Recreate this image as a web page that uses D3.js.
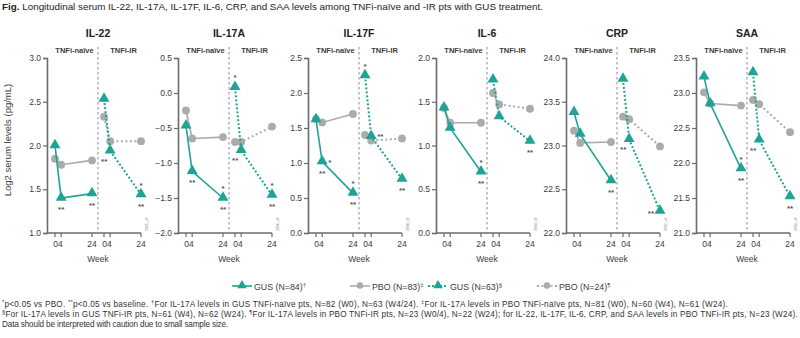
<!DOCTYPE html>
<html>
<head>
<meta charset="utf-8">
<script src="https://cdn.jsdelivr.net/npm/d3@7"></script>
<style>
  body { margin: 0; background: #fff; }
  svg { display: block; font-family: "Liberation Sans", Arial, sans-serif; }
</style>
</head>
<body>
<div id="chart"></div>
<script>
// Data
const analytes = ["IL-22", "IL-17A", "IL-17F", "IL-6", "CRP", "SAA"];
const weeks = [0, 4, 24];
const yDomains = [[1.0, 3.0], [-2.0, 0.5], [0.0, 2.5], [0.0, 2.0], [22.0, 24.0], [21.0, 23.5]];
const docCodes = ["2005_v8", "2006_v8", "2008_v8", "2004_v8", "2002_v8", "2003_v8"];

const gusNaive = [[2.00, 1.40, 1.45], [-0.47, -1.12, -1.50], [1.62, 1.02, 0.57], [1.43, 1.20, 0.70], [23.38, 23.13, 22.60], [23.23, 22.85, 21.92]];
const pboNaive = [[1.85, 1.78, 1.83], [-0.25, -0.65, -0.63], [1.63, 1.58, 1.70], [1.43, 1.26, 1.26], [23.17, 23.03, 23.04], [23.01, 22.85, 22.82]];
const gusIR = [[2.53, 1.94, 1.44], [0.08, -0.82, -1.46], [2.25, 1.38, 0.77], [1.75, 1.33, 1.05], [23.76, 23.07, 22.25], [23.29, 22.33, 21.52]];
const pboIR = [[2.33, 2.05, 2.05], [-0.70, -0.70, -0.48], [1.40, 1.32, 1.35], [1.60, 1.47, 1.42], [23.33, 23.30, 22.99], [22.90, 22.84, 22.44]];

// significance marks: [panel, series, week index, text, placement]
const marks = [
  [0, "gusNaive", 1, "**", "below"], [0, "gusNaive", 2, "**", "below"],
  [0, "gusIR", 1, "**", "belowLeft"], [0, "gusIR", 2, "*", "above"], [0, "gusIR", 2, "**", "below"],
  [1, "gusNaive", 1, "**", "below"], [1, "gusNaive", 2, "*", "above"], [1, "gusNaive", 2, "**", "below"],
  [1, "gusIR", 0, "*", "above"], [1, "gusIR", 1, "**", "belowLeft"], [1, "gusIR", 2, "*", "above"], [1, "gusIR", 2, "**", "below"],
  [2, "gusNaive", 1, "*", "right"], [2, "gusNaive", 1, "**", "below"], [2, "gusNaive", 2, "*", "above"], [2, "gusNaive", 2, "**", "below"],
  [2, "gusIR", 0, "*", "above"], [2, "gusIR", 1, "**", "right"], [2, "gusIR", 2, "**", "below"],
  [3, "gusNaive", 2, "*", "above"], [3, "gusNaive", 2, "**", "below"], [3, "gusIR", 2, "**", "below"],
  [4, "gusNaive", 2, "**", "below"], [4, "gusIR", 1, "**", "belowLeft"], [4, "gusIR", 2, "**", "left"],
  [5, "gusNaive", 2, "*", "above"], [5, "gusNaive", 2, "**", "below"], [5, "gusIR", 1, "**", "belowLeft"], [5, "gusIR", 2, "**", "below"]
];

const legendLabels = ["GUS (N=84)", "PBO (N=83)", "GUS (N=63)", "PBO (N=24)"];
const legendSup = ["†", "‡", "§", "¶"];

const teal = "#1fa396";
const grey = "#ababab";
const axisCol = "#6b6b6b";
const textCol = "#3c3c3c";

const width = 800, height = 338;
const svg = d3.select("#chart").append("svg").attr("width", width).attr("height", height);

// stretch a text line to the width it has in the figure
function fitWidth(sel, target) {
  const node = sel.node();
  const w = node.getComputedTextLength();
  const n = node.textContent.length;
  if (n > 1) sel.attr("letter-spacing", ((target - w) / n).toFixed(3));
}

// Title
const title = svg.append("text").attr("x", 2).attr("y", 10).attr("font-size", 9.8).attr("fill", "#222");
title.append("tspan").attr("font-weight", "bold").text("Fig.");
title.append("tspan").text(" Longitudinal serum IL-22, IL-17A, IL-17F, IL-6, CRP, and SAA levels among TNFi-naïve and -IR pts with GUS treatment.");
fitWidth(title, 541);

// Y label
svg.append("text")
  .attr("transform", "translate(11,140) rotate(-90)")
  .attr("text-anchor", "middle").attr("font-size", 9.5).attr("fill", textCol)
  .text("Log2 serum levels (pg/mL)");

const panelX = [47, 178, 308, 436, 566, 696];
const plotTop = 58, plotBottom = 233;
const seriesData = { gusNaive, pboNaive, gusIR, pboIR };

analytes.forEach((name, p) => {
  const x0 = panelX[p];
  const g = svg.append("g");
  const y = d3.scaleLinear().domain(yDomains[p]).range([plotBottom, plotTop]);
  const xN = d3.scaleLinear().domain([0, 24]).range([x0 + 8, x0 + 45]);
  const xI = d3.scaleLinear().domain([0, 24]).range([x0 + 57, x0 + 94]);
  const divX = x0 + 51;

  // y axis
  const yAxis = d3.axisLeft(y).ticks(5).tickSize(4).tickFormat(d3.format(".1f"));
  const ya = g.append("g").attr("transform", `translate(${x0},0)`).call(yAxis);
  ya.select(".domain").attr("stroke", axisCol).attr("stroke-width", 1.6);
  ya.selectAll(".tick line").attr("stroke", axisCol).attr("stroke-width", 1.2);
  ya.selectAll(".tick text").attr("font-size", 8.5).attr("fill", textCol).attr("font-family", "Liberation Sans, Arial, sans-serif").attr("x", -6);

  // x axis baseline and ticks
  g.append("line").attr("x1", x0).attr("x2", xI(24)).attr("y1", plotBottom).attr("y2", plotBottom)
    .attr("stroke", axisCol).attr("stroke-width", 1.6);
  const tickXs = weeks.map(w => xN(w)).concat(weeks.map(w => xI(w)));
  g.selectAll(".xt").data(tickXs).enter().append("line")
    .attr("x1", d => d).attr("x2", d => d).attr("y1", plotBottom).attr("y2", plotBottom + 4)
    .attr("stroke", axisCol).attr("stroke-width", 1.2);
  // tick labels: "04" grouped, "24"
  [xN, xI].forEach(xs => {
    g.append("text").attr("x", (xs(0) + xs(4)) / 2).attr("y", plotBottom + 14).attr("text-anchor", "middle")
      .attr("font-size", 8.5).attr("fill", textCol).text("04");
    g.append("text").attr("x", xs(24)).attr("y", plotBottom + 14).attr("text-anchor", "middle")
      .attr("font-size", 8.5).attr("fill", textCol).text("24");
  });
  g.append("text").attr("x", divX).attr("y", plotBottom + 29).attr("text-anchor", "middle")
    .attr("font-size", 8.5).attr("fill", textCol).text("Week");

  // divider
  g.append("line").attr("x1", divX).attr("x2", divX).attr("y1", 47).attr("y2", plotBottom)
    .attr("stroke", "#8a8a8a").attr("stroke-width", 1).attr("stroke-dasharray", "2.5,2.5");

  // titles
  g.append("text").attr("x", divX).attr("y", 37).attr("text-anchor", "middle")
    .attr("font-size", 10.5).attr("font-weight", "bold").attr("fill", "#222").text(name);
  g.append("text").attr("x", (xN(0) + xN(24)) / 2 + 1).attr("y", 53).attr("text-anchor", "middle")
    .attr("font-size", 7.5).attr("font-weight", "bold").attr("fill", textCol).text("TNFi-naïve");
  g.append("text").attr("x", (xI(0) + xI(24)) / 2 + 1).attr("y", 53).attr("text-anchor", "middle")
    .attr("font-size", 7.5).attr("font-weight", "bold").attr("fill", textCol).text("TNFi-IR");

  // doc code
  g.append("text").attr("transform", `translate(${xI(24) + 7},${plotBottom - 2}) rotate(-90)`)
    .attr("font-size", 3.5).attr("fill", "#777").text(docCodes[p]);

  const series = [
    { key: "pboNaive", xs: xN, color: grey, dash: null, shape: "circle" },
    { key: "pboIR", xs: xI, color: grey, dash: "2,2.5", shape: "circle" },
    { key: "gusNaive", xs: xN, color: teal, dash: null, shape: "tri" },
    { key: "gusIR", xs: xI, color: teal, dash: "2,2", shape: "tri" }
  ];
  const line = d3.line();
  series.forEach(s => {
    const vals = seriesData[s.key][p];
    const pts = weeks.map((w, i) => [s.xs(w), y(vals[i])]);
    g.append("path").attr("d", line(pts)).attr("fill", "none")
      .attr("stroke", s.color).attr("stroke-width", s.dash ? 2 : 1.6)
      .attr("stroke-dasharray", s.dash);
    const sym = d3.symbol().type(s.shape === "tri" ? d3.symbolTriangle : d3.symbolCircle).size(s.shape === "tri" ? 52 : 48);
    g.selectAll(null).data(pts).enter().append("path")
      .attr("transform", d => `translate(${d[0]},${d[1] + (s.shape === "tri" ? -0.5 : 0)})`)
      .attr("d", sym).attr("fill", s.color);
  });

  // significance marks
  marks.filter(m => m[0] === p).forEach(([, key, wi, txt, place]) => {
    const xs = key.endsWith("IR") ? xI : xN;
    const px = xs(weeks[wi]);
    const py = y(seriesData[key][p][wi]);
    let tx = px, ty = py, anchor = "middle";
    if (place === "below") ty = py + 14;
    else if (place === "above") ty = py - 7;
    else if (place === "belowLeft") { tx = px - 6; ty = py + 13; }
    else if (place === "right") { tx = px + 6; ty = py + 3; anchor = "start"; }
    else if (place === "left") { tx = px - 6; ty = py + 5; anchor = "end"; }
    g.append("text").attr("x", tx).attr("y", ty).attr("text-anchor", anchor)
      .attr("font-size", 8).attr("font-weight", "bold").attr("fill", "#555").text(txt);
  });
});

// Legend
const legendX = [232, 350, 428, 537];
const legendStyle = [
  { color: teal, dash: null, tri: true }, { color: grey, dash: null, tri: false },
  { color: teal, dash: "2,2", tri: true }, { color: grey, dash: "2,2.5", tri: false }
];
legendLabels.forEach((lab, i) => {
  const lx = legendX[i], ly = 286, st = legendStyle[i];
  svg.append("line").attr("x1", lx).attr("x2", lx + 20).attr("y1", ly).attr("y2", ly)
    .attr("stroke", st.color).attr("stroke-width", st.dash ? 2 : 1.6).attr("stroke-dasharray", st.dash);
  svg.append("path").attr("transform", `translate(${lx + 10},${ly - 0.5})`)
    .attr("d", d3.symbol().type(st.tri ? d3.symbolTriangle : d3.symbolCircle).size(st.tri ? 40 : 32)())
    .attr("fill", st.color);
  const t = svg.append("text").attr("x", lx + 22).attr("y", ly + 3.5).attr("font-size", 8.8).attr("fill", textCol);
  t.append("tspan").text(lab);
  t.append("tspan").attr("font-size", 6).attr("dy", -3).text(legendSup[i]);
});

// Footnotes
const foot = [
  [["*", true], ["p<0.05 vs PBO. ", false], ["**", true], ["p<0.05 vs baseline. ", false], ["†", true], ["For IL-17A levels in GUS TNFi-naïve pts, N=82 (W0), N=63 (W4/24). ", false], ["‡", true], ["For IL-17A levels in PBO TNFi-naïve pts, N=81 (W0), N=60 (W4), N=61 (W24).", false]],
  [["§", true], ["For IL-17A levels in GUS TNFi-IR pts, N=61 (W4), N=62 (W24). ", false], ["¶", true], ["For IL-17A levels in PBO TNFi-IR pts, N=23 (W0/4), N=22 (W24); for IL-22, IL-17F, IL-6, CRP, and SAA levels in PBO TNFi-IR pts, N=23 (W24).", false]],
  [["Data should be interpreted with caution due to small sample size.", false]]
];
const footY = [307, 317, 327];
const footW = [726, 796, 226];
foot.forEach((parts, i) => {
  const t = svg.append("text").attr("x", 2).attr("y", footY[i]).attr("font-size", 8.2).attr("fill", "#333");
  parts.forEach(([txt, sup]) => {
    if (sup) t.append("tspan").attr("font-size", 5.8).attr("baseline-shift", "super").text(txt);
    else t.append("tspan").text(txt);
  });
  fitWidth(t, footW[i]);
});
</script>
</body>
</html>
